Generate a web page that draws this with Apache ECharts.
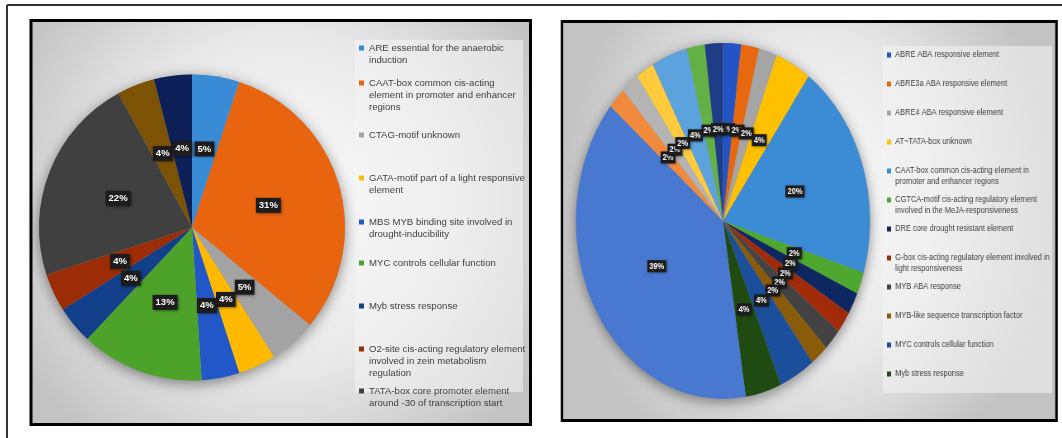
<!DOCTYPE html>
<html><head><meta charset="utf-8">
<script src="https://cdn.jsdelivr.net/npm/echarts@6/dist/echarts.min.js"></script>
<style>
html,body{margin:0;padding:0;background:#fff;overflow:hidden;width:1062px;height:438px;}
#left{position:absolute;left:0;top:0;width:540px;height:438px;}
#right{position:absolute;left:540px;top:0;width:632px;height:438px;transform:scaleX(0.826);transform-origin:0 0;}
</style></head><body>
<div id="left"></div><div id="right"></div>
<script>
// ---------- DATA ----------
const leftCategories = [
  'ARE essential for the anaerobic\ninduction',
  'CAAT-box common cis-acting\nelement in promoter and enhancer\nregions',
  'CTAG-motif unknown',
  'GATA-motif part of a light responsive\nelement',
  'MBS MYB binding site involved in\ndrought-inducibility',
  'MYC controls cellular function',
  'Myb stress response',
  'O2-site cis-acting regulatory element\ninvolved in zein metabolism\nregulation',
  'TATA-box core promoter element\naround -30 of transcription start',
  'unlisted L1',
  'unlisted L2'
];
const leftLegendCount = 9;
const leftValues = [5, 31, 5, 4, 4, 13, 4, 4, 22, 4, 4];

const rightCategories = [
  'ABRE ABA responsive element',
  'ABRE3a ABA responsive element',
  'ABRE4 ABA responsive element',
  'AT~TATA-box unknown',
  'CAAT-box common cis-acting element in\npromoter and enhancer regions',
  'CGTCA-motif cis-acting regulatory element\ninvolved in the MeJA-responsiveness',
  'DRE core drought resistant element',
  'G-box cis-acting regulatory element involved in\nlight responsiveness',
  'MYB ABA response',
  'MYB-like sequence transcription factor',
  'MYC controls cellular function',
  'Myb stress response',
  'unlisted R1', 'unlisted R2', 'unlisted R3', 'unlisted R4', 'unlisted R5', 'unlisted R6', 'unlisted R7'
];
const rightLegendCount = 12;
const rightValues = [2, 2, 2, 4, 20, 2, 2, 2, 2, 2, 4, 4, 39, 2, 2, 2, 4, 2, 2];

// ---------- STYLE ----------
const leftColors = ['#3a8bd6','#e8640e','#a3a3a3','#ffb900','#2157c6','#4da22a','#123f8a','#9c2c05','#404040','#7c5205','#0c1f57'];
const rightColors = ['#2353c4','#e8680f','#a5a5a5','#ffc000','#3b8bd5','#4ea72e','#0f2760','#a12b08','#434343','#8a5b08','#1b4f9c','#1f4b12',
                     '#4878cf','#f08a3c','#b4b4b4','#ffca3c','#5ca3de','#63b044','#1e3d86'];
const leftLegendY = [48, 83, 135, 178, 222, 263, 306, 349, 391];
const rightLegendY0 = 55, rightLegendStep = 29;
const FONT = "'Liberation Sans', Arial, sans-serif";

function bgGradient(){
  return new echarts.graphic.RadialGradient(0.5, 0.45, 0.75, [
    {offset:0, color:'#ffffff'}, {offset:0.55, color:'#e8e8e8'}, {offset:1, color:'#c3c3c3'}]);
}
// one legend per entry so the marker sits on the first text line, like the reference
function makeLegends(names, ys, left, fontSize, lh){
  return names.map((n, i) => {
    const lines = n.split('\n').length;
    return {
      data: [n],
      formatter: (name) => '\n'.repeat(lines - 1) + name,
      left: left, top: ys[i] - (2 * lines - 1) * lh / 2,
      orient: 'vertical', padding: 0, icon: 'rect', itemWidth: 5, itemHeight: 5,
      selectedMode: false,
      textStyle: {fontFamily: FONT, fontSize: fontSize, lineHeight: lh, color: '#404040'}
    };
  });
}
function pieData(cats, vals, colors){
  return cats.map((c, i) => ({name: c, value: vals[i], itemStyle: {color: colors[i]}}));
}
function labelStyle(fs, pad){
  return {show: true, position: 'inside', formatter: '{c}%', color: '#fff', fontWeight: 'bold',
    fontFamily: FONT, fontSize: fs, backgroundColor: '#1c1c1c', padding: pad,
    shadowColor: 'rgba(0,0,0,0.55)', shadowBlur: 3, shadowOffsetX: 1, shadowOffsetY: 1};
}
function shadowPie(center, r){
  return {type: 'pie', silent: true, z: 1, center: center, radius: r, label: {show: false},
    itemStyle: {color: '#9a9a9a', shadowBlur: 14, shadowColor: 'rgba(0,0,0,0.45)', shadowOffsetY: 3},
    data: [{name: '_shadow', value: 1}], animation: false};
}

// ---------- LEFT ----------
const left = echarts.init(document.getElementById('left'));
left.setOption({
  animation: false,
  graphic: [
    {type: 'line', shape: {x1: 7, y1: 5, x2: 540, y2: 5}, style: {stroke: '#333', lineWidth: 2}},
    {type: 'line', shape: {x1: 7, y1: 5, x2: 7, y2: 438}, style: {stroke: '#333', lineWidth: 2}},
    {type: 'rect', shape: {x: 31, y: 20.5, width: 499.5, height: 404}, style: {fill: bgGradient(), stroke: '#000', lineWidth: 3}},
    {type: 'rect', shape: {x: 355, y: 40, width: 168, height: 352}, style: {fill: 'rgba(244,244,244,0.55)'}}
  ],
  legend: makeLegends(leftCategories.slice(0, leftLegendCount), leftLegendY, 359, 9.6, 12),
  series: [
    shadowPie([192, 227.5], 153),
    {type: 'pie', z: 2, center: [192, 227.5], radius: 153, startAngle: 90, clockwise: true,
     itemStyle: {borderWidth: 0}, label: labelStyle(9.5, [2.5, 3]), labelLine: {show: false},
     labelLayout: {hideOverlap: false}, avoidLabelOverlap: false,
     emphasis: {disabled: true},
     data: pieData(leftCategories, leftValues, leftColors)}
  ]
});

// ---------- RIGHT ----------
const right = echarts.init(document.getElementById('right'));
right.setOption({
  animation: false,
  graphic: [
    {type: 'line', shape: {x1: 0, y1: 5, x2: 632, y2: 5}, style: {stroke: '#333', lineWidth: 2}},
    {type: 'rect', shape: {x: 26.6, y: 21.5, width: 598.7, height: 399}, style: {fill: bgGradient(), stroke: '#000', lineWidth: 3}},
    {type: 'rect', shape: {x: 415, y: 46, width: 205, height: 347}, style: {fill: 'rgba(244,244,244,0.55)'}}
  ],
  legend: makeLegends(rightCategories.slice(0, rightLegendCount),
    rightCategories.slice(0, rightLegendCount).map((_, i) => rightLegendY0 + i * rightLegendStep), 420, 9, 11),
  series: [
    shadowPie([221.5, 221], 178),
    {type: 'pie', z: 2, center: [221.5, 221], radius: 178, startAngle: 90, clockwise: true,
     itemStyle: {borderWidth: 0}, label: labelStyle(9, [1.5, 2.5]), labelLine: {show: false},
     labelLayout: {hideOverlap: false}, avoidLabelOverlap: false,
     emphasis: {disabled: true},
     data: pieData(rightCategories, rightValues, rightColors)}
  ]
});
</script>
</body></html>
